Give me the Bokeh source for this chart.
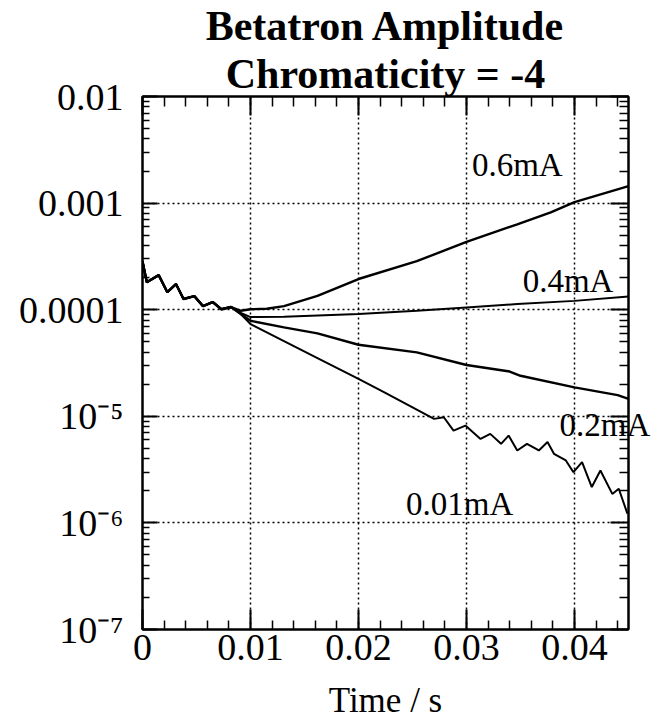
from bokeh.plotting import figure
from bokeh.models import FixedTicker, LogAxis, LinearAxis, Title, Label, Range1d
from bokeh.embed import file_html
from bokeh.resources import INLINE

# ---------------- data ----------------
x_ticks = [0.0, 0.01, 0.02, 0.03, 0.04]
x_tick_labels = ["0", "0.01", "0.02", "0.03", "0.04"]
y_ticks = [1e-7, 1e-6, 1e-5, 1e-4, 1e-3, 1e-2]
y_tick_labels = ["10⁻⁷", "10⁻⁶", "10⁻⁵", "0.0001", "0.001", "0.01"]

# common noisy start (all currents overlap)
common_t = [0.0, 0.0004, 0.0015, 0.0023, 0.0031, 0.0038, 0.0048, 0.0056, 0.0065, 0.0073, 0.0082]
common_amp = [2.85e-4, 1.81e-4, 2.11e-4, 1.46e-4, 1.74e-4, 1.26e-4, 1.34e-4, 1.08e-4, 1.18e-4, 1.01e-4, 1.06e-4]

t_06 = [0.0091, 0.0100, 0.0115, 0.0131, 0.0162, 0.0200, 0.0254, 0.0300, 0.0347, 0.0378, 0.0400, 0.0450]
amp_06 = [9.77e-5, 1.01e-4, 1.02e-4, 1.08e-4, 1.35e-4, 1.94e-4, 2.85e-4, 4.33e-4, 6.32e-4, 8.20e-4, 1.02e-3, 1.44e-3]

t_04 = [0.0091, 0.0100, 0.0131, 0.0200, 0.0254, 0.0300, 0.0347, 0.0400, 0.0450]
amp_04 = [9.33e-5, 8.53e-5, 8.59e-5, 9.10e-5, 9.77e-5, 1.05e-4, 1.13e-4, 1.21e-4, 1.33e-4]

t_02 = [0.0091, 0.0100, 0.0131, 0.0162, 0.0200, 0.0254, 0.0300, 0.0340, 0.0350, 0.0400, 0.0440, 0.0450]
amp_02 = [9.12e-5, 7.87e-5, 6.82e-5, 6.00e-5, 4.69e-5, 3.98e-5, 3.03e-5, 2.63e-5, 2.40e-5, 1.87e-5, 1.58e-5, 1.46e-5]

t_001 = [0.0091, 0.0100, 0.0131, 0.0162, 0.0200, 0.0224, 0.0270, 0.0279, 0.0288, 0.0299, 0.0313,
         0.0322, 0.0332, 0.0339, 0.0347, 0.0356, 0.0367, 0.0375, 0.0381, 0.0392, 0.0399, 0.0407,
         0.0416, 0.0424, 0.0435, 0.0441, 0.0449]
amp_001 = [9.12e-5, 7.33e-5, 5.08e-5, 3.52e-5, 2.24e-5, 1.68e-5, 9.46e-6, 9.79e-6, 7.35e-6, 8.18e-6, 6.14e-6,
           6.84e-6, 5.52e-6, 6.59e-6, 4.78e-6, 5.52e-6, 4.78e-6, 5.73e-6, 4.45e-6, 3.85e-6, 2.99e-6, 3.71e-6,
           2.17e-6, 3.10e-6, 1.87e-6, 2.09e-6, 1.22e-6]

series_names = ["0.6mA", "0.4mA", "0.2mA", "0.01mA"]
series_t = [t_06, t_04, t_02, t_001]
series_amp = [amp_06, amp_04, amp_02, amp_001]
series_width = [2.4, 2.0, 2.4, 2.0]

# ---------------- figure ----------------
FONT = "Liberation Serif"

p = figure(width=664, height=722,
           x_range=Range1d(0, 0.045), y_range=Range1d(1e-7, 1e-2),
           y_axis_type="log", output_backend="svg", toolbar_location=None,
           min_border_left=142, min_border_right=36, min_border_bottom=91, min_border_top=0)
p.background_fill_color = "white"
p.border_fill_color = "white"
p.outline_line_color = "black"
p.outline_line_width = 2

x_minor = [round(i * 0.002, 4) for i in range(23)]
y_minor = [m * 10.0 ** e for e in range(-7, -2) for m in range(2, 10)]

xt = FixedTicker(ticks=x_ticks, minor_ticks=x_minor)
yt = FixedTicker(ticks=y_ticks, minor_ticks=y_minor)

def style_axis(ax, major_in, minor_in):
    ax.major_tick_in = major_in
    ax.major_tick_out = 0
    ax.minor_tick_in = minor_in
    ax.minor_tick_out = 0
    ax.axis_line_width = 2
    ax.major_tick_line_width = 2
    ax.minor_tick_line_width = 1.5
    ax.axis_line_color = "black"
    ax.major_tick_line_color = "black"
    ax.minor_tick_line_color = "black"

xa = p.xaxis[0]
xa.ticker = xt
xa.major_label_overrides = {v: s for v, s in zip(x_ticks, x_tick_labels)}
xa.major_label_text_font = FONT
xa.major_label_text_font_size = "38px"
xa.major_label_text_color = "black"
xa.major_label_standoff = 5
xa.axis_label = "Time / s"
xa.axis_label_text_font = FONT
xa.axis_label_text_font_style = "normal"
xa.axis_label_text_font_size = "35px"
xa.axis_label_text_color = "black"
xa.axis_label_standoff = 18
style_axis(xa, 20, 9)

ya = p.yaxis[0]
ya.ticker = yt
ya.major_label_overrides = {v: s for v, s in zip(y_ticks, y_tick_labels)}
ya.major_label_text_font = FONT
ya.major_label_text_font_size = "38px"
ya.major_label_text_color = "black"
ya.major_label_standoff = 19
style_axis(ya, 15, 7)

top_ax = LinearAxis(ticker=xt, major_label_overrides={v: "" for v in x_ticks}, major_label_standoff=0)
style_axis(top_ax, 19, 10)
p.add_layout(top_ax, "above")

right_ax = LogAxis(ticker=yt, major_label_overrides={v: "" for v in y_ticks}, major_label_standoff=0)
style_axis(right_ax, 18, 9)
p.add_layout(right_ax, "right")

p.xgrid.ticker = xt
p.ygrid.ticker = yt
for g in (p.xgrid[0], p.ygrid[0]):
    g.grid_line_color = "black"
    g.grid_line_dash = "2 3"
    g.grid_line_width = 1.5

# titles (second line added first so it sits closer to the plot)
p.add_layout(Title(text="Chromaticity = -4", text_font=FONT, text_font_style="bold",
                   text_font_size="42px", text_color="black", align="center", standoff=0), "above")
p.add_layout(Title(text="Betatron Amplitude", text_font=FONT, text_font_style="bold",
                   text_font_size="42px", text_color="black", align="center", standoff=0), "above")

for name, ts, amps, w in zip(series_names, series_t, series_amp, series_width):
    p.line(common_t + ts, common_amp + amps, line_color="black", line_width=w)

label_style = dict(text_font=FONT, text_font_size="33px", text_color="black",
                   text_baseline="alphabetic", text_align="left")
label_pos = {"0.6mA": (0.0305, 2.3e-3), "0.4mA": (0.0352, 1.85e-4), "0.01mA": (0.0244, 1.51e-6)}
for name, (lx, ly) in label_pos.items():
    p.add_layout(Label(x=lx, y=ly, text=name, **label_style))

# "0.2mA" overhangs the right edge of the frame in the original; frame annotations are
# clipped, so it is drawn as the single label of an extra (invisible) right-hand axis.
label_02_y = 8.3e-6
lab_ax = LogAxis(ticker=FixedTicker(ticks=[label_02_y], minor_ticks=[]),
                 major_label_overrides={label_02_y: "0.2mA"},
                 major_label_text_font=FONT, major_label_text_font_size="33px",
                 major_label_text_color="black", major_label_standoff=-69,
                 axis_line_color=None, major_tick_line_color=None, minor_tick_line_color=None,
                 major_tick_in=0, major_tick_out=0, minor_tick_in=0, minor_tick_out=0)
p.add_layout(lab_ax, "right")

open("out.html", "w").write(file_html(p, INLINE))
